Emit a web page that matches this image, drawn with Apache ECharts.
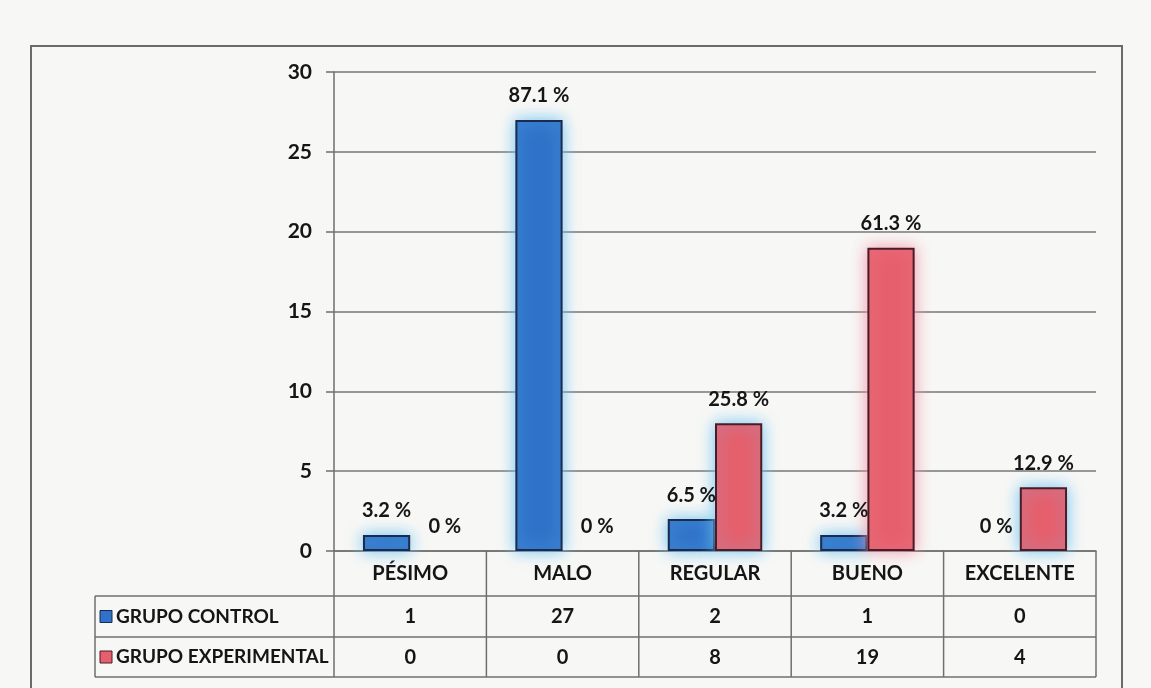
<!DOCTYPE html>
<html><head><meta charset="utf-8">
<script src="https://cdn.jsdelivr.net/npm/echarts@6/dist/echarts.min.js"></script>
<style>html,body{margin:0;padding:0;background:#f7f7f5;}#c{width:1151px;height:688px;}</style>
</head><body><div id="c"></div>
<script>
const categories = ['PÉSIMO', 'MALO', 'REGULAR', 'BUENO', 'EXCELENTE'];
const seriesNames = ['GRUPO CONTROL', 'GRUPO EXPERIMENTAL'];
const controlValues = [1, 27, 2, 1, 0];
const experimentalValues = [0, 0, 8, 19, 4];
const controlPercents = ['3.2 %', '87.1 %', '6.5 %', '3.2 %', '0 %'];
const experimentalPercents = ['0 %', '0 %', '25.8 %', '61.3 %', '12.9 %'];
const yTicks = [0, 5, 10, 15, 20, 25, 30];

const FONT = 'Lato, "Open Sans", "DejaVu Sans", sans-serif';
const BLUE = '#2f72c9', BLUE_B = '#1b2a4f';
const RED = '#e65f6c', RED_B = '#4b1c27';
const GLOW_B = 'rgba(110,195,240,1)', GLOW_R = 'rgba(240,150,170,1)';

function items(vals, isExp) {
  return vals.map((v, i) => {
    const it = { value: v, itemStyle: {} };
    if (v === 0) {
      it.itemStyle = { borderWidth: 0, shadowBlur: 0 };
      if (isExp) it.label = { offset: [11, 0] };
    } else if (isExp && i === 3) {
      it.itemStyle = { shadowColor: GLOW_R };
    }
    return it;
  });
}

const chart = echarts.init(document.getElementById('c'), null, { renderer: 'canvas' });
const labelStyle = (pct) => ({
  show: true, position: 'top', distance: 14,
  fontFamily: FONT, fontSize: 20, fontWeight: 'bold', color: '#151515',
  formatter: p => pct[p.dataIndex]
});

chart.setOption({
  animation: false,
  textStyle: { fontFamily: FONT },
  grid: { left: 334, right: 55, top: 72, bottom: 137 },
  xAxis: {
    type: 'category', data: categories,
    axisLine: { show: true, lineStyle: { color: '#6f6f6f', width: 1.5 } },
    axisTick: { show: false },
    axisLabel: {
      interval: 0, margin: 0,
      formatter: (val, idx) => `{c|${val}}\n{v|${controlValues[idx]}}\n{v|${experimentalValues[idx]}}`,
      rich: {
        c: { fontFamily: FONT, fontSize: 20, fontWeight: 'bold', color: '#151515', lineHeight: 45 },
        v: { fontFamily: FONT, fontSize: 20, fontWeight: 'bold', color: '#151515', lineHeight: 41 }
      }
    }
  },
  yAxis: {
    type: 'value', min: yTicks[0], max: yTicks[yTicks.length - 1], interval: yTicks[1] - yTicks[0],
    axisLine: { show: true, lineStyle: { color: '#6f6f6f', width: 1.5 } },
    axisTick: { show: true, inside: false, length: 8, lineStyle: { color: '#6f6f6f', width: 1.5 } },
    axisLabel: { margin: 22, fontFamily: FONT, fontSize: 21, fontWeight: 'bold', color: '#151515' },
    splitLine: { show: true, lineStyle: { color: '#777777', width: 1.5 } }
  },
  series: [
    {
      name: seriesNames[0], type: 'bar', data: items(controlValues, false),
      barGap: '0%', barCategoryGap: '38%',
      itemStyle: { color: BLUE, borderColor: BLUE_B, borderWidth: 2, shadowBlur: 16, shadowColor: GLOW_B },
      label: labelStyle(controlPercents)
    },
    {
      name: seriesNames[1], type: 'bar', data: items(experimentalValues, true),
      barGap: '0%', barCategoryGap: '38%',
      itemStyle: { color: RED, borderColor: RED_B, borderWidth: 2, shadowBlur: 16, shadowColor: GLOW_B },
      label: labelStyle(experimentalPercents)
    }
  ]
});

// data table lines + legend column
const c0 = chart.convertToPixel({ xAxisIndex: 0 }, 0);
const c1 = chart.convertToPixel({ xAxisIndex: 0 }, 1);
const band = c1 - c0;
const y0 = chart.convertToPixel({ yAxisIndex: 0 }, 0);
const xStart = c0 - band / 2;
const xEnd = chart.convertToPixel({ xAxisIndex: 0 }, categories.length - 1) + band / 2;
const rows = [y0, y0 + 45, y0 + 86, y0 + 126];
const legendLeft = 95;
const lineStyle = { stroke: '#6f6f6f', lineWidth: 1.5 };
const g = [];
g.push({ type: 'rect', silent: true, shape: { x: 31, y: 46, width: 1091, height: 660 }, style: { fill: null, stroke: '#6a6a6a', lineWidth: 2 } });
for (let i = 0; i <= categories.length; i++) {
  const x = xStart + band * i;
  g.push({ type: 'line', silent: true, shape: { x1: x, y1: rows[0], x2: x, y2: rows[3] }, style: lineStyle });
}
for (let r = 1; r <= 3; r++) {
  g.push({ type: 'line', silent: true, shape: { x1: legendLeft, y1: rows[r], x2: xEnd, y2: rows[r] }, style: lineStyle });
}
g.push({ type: 'line', silent: true, shape: { x1: legendLeft, y1: rows[1], x2: legendLeft, y2: rows[3] }, style: lineStyle });
const legendColors = [[BLUE, BLUE_B], [RED, RED_B]];
seriesNames.forEach((name, k) => {
  const cy = (rows[k + 1] + rows[k + 2]) / 2;
  g.push({ type: 'rect', silent: true, shape: { x: legendLeft + 5, y: cy - 6, width: 12, height: 12 }, style: { fill: legendColors[k][0], stroke: legendColors[k][1], lineWidth: 1 } });
  g.push({ type: 'text', silent: true, x: legendLeft + 21, y: cy, style: { text: name, fontFamily: FONT, fontSize: 19, fontWeight: 'bold', fill: '#151515', verticalAlign: 'middle', align: 'left' } });
});
chart.setOption({ graphic: g });
</script>
</body></html>
